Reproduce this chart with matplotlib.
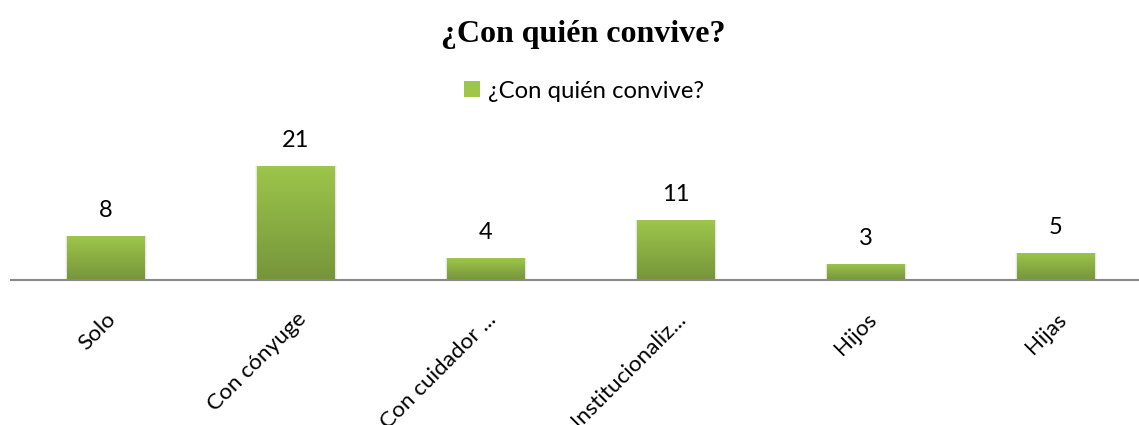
import numpy as np
import matplotlib
matplotlib.use("Agg")
import matplotlib.pyplot as plt
from matplotlib.colors import LinearSegmentedColormap
from matplotlib.patches import Patch

categories = ["Solo", "Con cónyuge", "Con cuidador ...", "Institucionaliz...", "Hijos", "Hijas"]
values = [8, 21, 4, 11, 3, 5]
series_name = "¿Con quién convive?"
title = "¿Con quién convive?"

top_c = "#9DC64B"
bot_c = "#76953A"
cmap = LinearSegmentedColormap.from_list("g", [bot_c, top_c])
FONT = "Lato"

fig = plt.figure(figsize=(11.39, 4.25), dpi=100)
ax = fig.add_axes([11/1139, 1-280/425, 1140/1139, 136/425])
x = np.arange(len(categories))
bw = 0.41
bars = ax.bar(x, values, width=bw, color=top_c, zorder=2)
ax.set_xlim(-0.5, len(categories)-0.5)
ax.set_ylim(0, 25)

grad = np.linspace(0, 1, 256).reshape(-1, 1)
for b, v in zip(bars, values):
    b.set_facecolor("none")
    x0 = b.get_x(); w = b.get_width()
    for dx, a in [(0.012, 0.04), (-0.012, 0.04), (0.006, 0.06), (-0.006, 0.06)]:
        ax.bar(x0 + w/2 + dx, v, width=w, color="#000000", alpha=a, zorder=1, linewidth=0)
    im = ax.imshow(grad, cmap=cmap, origin="lower", aspect="auto",
                   extent=[x0, x0 + w, 0, v], zorder=2)
    im.set_clip_path(b)

for xi, v in zip(x, values):
    ax.text(xi, v + 3.5, str(v), ha="center", va="baseline", fontsize=17,
            family=FONT, color="#000000")

for s in ["top", "right", "left"]:
    ax.spines[s].set_visible(False)
ax.spines["bottom"].set_color("#898989")
ax.spines["bottom"].set_linewidth(1.5)
ax.set_yticks([])
ax.set_xticks(x)
ax.set_xticklabels(categories, rotation=45, ha="right", va="top",
                   rotation_mode="anchor", fontsize=16.2, family=FONT)
ax.tick_params(axis="x", length=0, pad=21)

fig.text(583/1139, 1-42/425, title, ha="center", va="baseline",
         fontsize=23, fontweight="bold", family="Liberation Serif")

leg = fig.legend(handles=[Patch(facecolor=top_c, edgecolor="none")], labels=[series_name],
                 loc="center", bbox_to_anchor=(584/1139, 1-91/425), frameon=False,
                 prop={"family": FONT, "size": 17.2}, handlelength=0.64,
                 handleheight=0.64, handletextpad=0.34)

fig.savefig("out.png", dpi=100)
